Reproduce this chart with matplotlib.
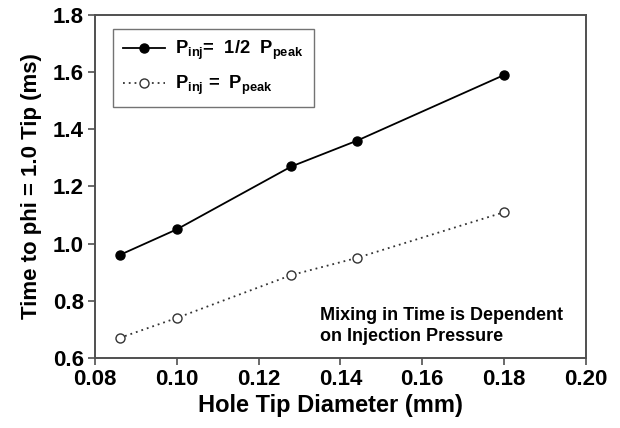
import matplotlib
matplotlib.use("Agg")
import matplotlib.pyplot as plt

# Hole tip diameter (mm) and time to reach phi = 1.0 at the tip (ms)
diameter = [0.086, 0.100, 0.128, 0.144, 0.180]
time_half_peak = [0.96, 1.05, 1.27, 1.36, 1.59]
time_full_peak = [0.67, 0.74, 0.89, 0.95, 1.11]

x_ticks = [0.08, 0.10, 0.12, 0.14, 0.16, 0.18, 0.20]
y_ticks = [0.6, 0.8, 1.0, 1.2, 1.4, 1.6, 1.8]

plt.rcParams["font.family"] = ["Liberation Sans", "DejaVu Sans"]
plt.rcParams["font.weight"] = "bold"
plt.rcParams["mathtext.fontset"] = "custom"
plt.rcParams["mathtext.rm"] = "Liberation Sans:bold"
plt.rcParams["mathtext.it"] = "Liberation Sans:bold"
plt.rcParams["mathtext.bf"] = "Liberation Sans:bold"

fig = plt.figure(figsize=(6.2, 4.28), dpi=100)
ax = fig.add_axes([0.1532, 0.1636, 0.7918, 0.8014])

spine_color = "#505050"
ax.plot(diameter, time_half_peak, color="black", lw=1.3, marker="o",
        markersize=6.5, markerfacecolor="black", markeredgecolor="black",
        label=r"$\mathrm{P_{inj}}$=  1/2  $\mathrm{P_{peak}}$")
ax.plot(diameter, time_full_peak, color="#333333", lw=1.3, ls=(0, (1, 2.2)),
        marker="o", markersize=6.5, markerfacecolor="white",
        markeredgecolor="#333333", markeredgewidth=1.0,
        label=r"$\mathrm{P_{inj}}$ =  $\mathrm{P_{peak}}$")

ax.set_xlim(0.08, 0.20)
ax.set_ylim(0.6, 1.8)
ax.set_xticks(x_ticks)
ax.set_yticks(y_ticks)
ax.set_xticklabels([f"{v:.2f}" for v in x_ticks])
ax.set_yticklabels([f"{v:.1f}" for v in y_ticks])
ax.tick_params(direction="out", length=5, width=1.2, color=spine_color,
               labelsize=16, pad=3)
for s in ax.spines.values():
    s.set_color(spine_color)
    s.set_linewidth(1.4)

ax.set_xlabel("Hole Tip Diameter (mm)", fontsize=17, fontweight="bold", labelpad=4)
ax.xaxis.set_label_coords(0.48, -0.105)
ax.set_ylabel("Time to phi = 1.0 Tip (ms)", fontsize=16, fontweight="bold", labelpad=8)

leg = ax.legend(loc="upper left", bbox_to_anchor=(0.037, 0.96), fontsize=13.2,
                frameon=True, fancybox=False, edgecolor=spine_color,
                handlelength=2.3, handletextpad=0.55, borderpad=0.55,
                labelspacing=0.65, borderaxespad=0)
leg.get_frame().set_linewidth(1.0)

ax.text(0.458, 0.093, "Mixing in Time is Dependent\non Injection Pressure",
        transform=ax.transAxes, fontsize=13, fontweight="bold",
        ha="left", va="center", linespacing=1.25)

fig.savefig("out.png", dpi=100)
